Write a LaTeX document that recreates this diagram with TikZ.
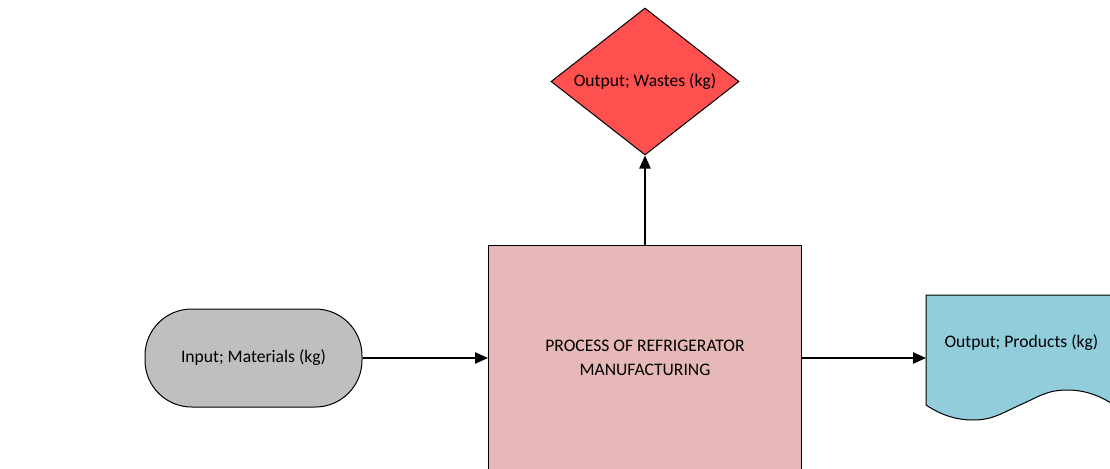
\documentclass[tikz,border=0pt]{standalone}
\usepackage{fontspec}
\setmainfont{Carlito}
\usetikzlibrary{shapes.geometric,arrows.meta}
\tikzset{every picture/.style={line width=0.75pt}}
\definecolor{wastered}{RGB}{255,80,80}
\definecolor{matgray}{RGB}{191,191,191}
\definecolor{procpink}{RGB}{230,184,183}
\definecolor{prodblue}{RGB}{146,205,220}
\tikzset{
  flowtext/.style={font=\fontsize{13.2}{18}\selectfont, text=black},
  flowarrow/.style={line width=1pt, -{Triangle[length=9.75pt,width=8.5pt]}},
}

\begin{document}
\begin{tikzpicture}[x=0.75pt,y=0.75pt,yscale=-1,xscale=1]
%set diagram frame: 1110 x 468
\useasboundingbox (0,0) rectangle (1110,468);
\clip (0,0) rectangle (1110,468);

%Shape: Diamond [wastes]
\node [diamond, draw, fill=wastered, aspect=1.28, minimum width=141pt, minimum height=110.25pt, inner sep=0pt, flowtext] (wastes) at (645,81.5) {Output; Wastes (kg)};
%Shape: Rectangle [process]
\node [rectangle, draw, fill=procpink, minimum width=234.75pt, minimum height=169.5pt, align=center, flowtext] (process) at (645,358) {PROCESS OF REFRIGERATOR\\MANUFACTURING};
%Shape: Terminator [materials]
\node [rectangle, rounded corners=35pt, draw, fill=matgray, minimum width=162.75pt, minimum height=73.5pt, flowtext] (materials) at (253.5,358) {Input; Materials (kg)};
%Shape: Document [products]
\draw [fill=prodblue] (926,295) -- (1114,295) -- (1114,405) .. controls (1099,395) and (1084,390) .. (1067,390) .. controls (1047,390) and (1038,397) .. (1020,405) .. controls (1002,413) and (993,420) .. (973,420) .. controls (956,420) and (941,415) .. (926,405) -- cycle ;
\coordinate (prodin) at (926,358);

% Text Node
\node [flowtext, anchor=west, inner sep=0pt] (products) at (944,343) {Output; Products (kg)};

%Straight Lines
\draw [flowarrow] (materials) -- (process);
%Straight Lines
\draw [flowarrow] (process) -- (prodin);
%Straight Lines
\draw [flowarrow] (process) -- (wastes);

\end{tikzpicture}
\end{document}
